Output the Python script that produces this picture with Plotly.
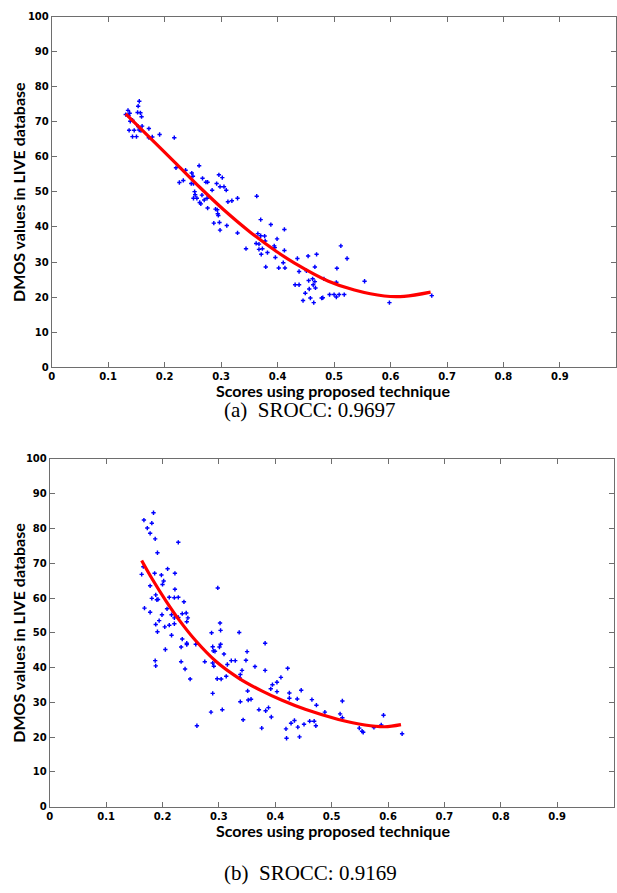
import plotly.graph_objects as go

# ---------------- data: panel (a) ----------------
score_a = [0.131,0.135,0.138,0.136,0.139,0.137,0.143,0.146,0.150,0.143,0.152,0.153,0.155,0.157,0.159,0.153,0.155,0.160,0.158,0.172,0.172,0.178,0.191,0.217,
           0.220,0.226,0.233,0.237,0.248,0.250,0.247,0.251,0.253,0.254,0.251,0.257,0.261,0.262,0.266,0.264,0.267,0.270,0.273,0.276,0.275,0.276,0.284,0.287,0.290,0.293,0.294,0.295,0.296,0.292,0.297,0.298,0.298,0.302,0.305,0.309,0.310,0.312,0.319,0.329,0.329,
           0.344,0.363,0.365,0.370,0.370,0.362,0.367,0.367,0.371,0.377,0.378,0.373,0.379,0.382,0.388,0.394,0.395,0.396,0.399,0.402,0.410,0.412,0.412,0.413,
           0.435,0.431,0.438,0.438,0.445,0.449,0.451,0.454,0.455,0.456,0.458,0.462,0.463,0.464,0.466,0.466,0.467,0.469,0.478,0.480,0.482,0.492,0.500,0.504,0.504,0.505,0.509,0.512,0.518,0.523,0.554,0.598,0.673]
dmos_a = [72.1,73.3,72.5,71.8,70.2,67.6,65.8,67.6,65.8,70.5,72.7,74.5,75.9,72.6,71.5,68.7,67.7,68.8,67.5,68.1,65.5,65.7,66.4,65.5,
          56.9,52.7,53.3,56.2,55.4,54.5,52.4,52.4,50.1,49.2,48.2,48.2,57.5,47.0,49.1,46.6,53.9,47.7,52.8,52.8,48.2,45.4,50.5,41.1,45.1,44.9,43.8,43.3,54.9,52.4,41.3,39.1,51.5,54.1,51.5,50.5,40.4,47.2,47.5,48.2,38.3,
          33.8,48.8,38.1,42.1,37.5,35.3,35.1,33.6,32.2,37.4,36.0,33.8,28.6,32.7,40.7,34.6,34.1,31.3,36.6,28.3,29.8,39.3,33.3,28.3,
          31.0,23.5,23.5,27.3,19.0,21.1,27.5,31.7,24.7,22.3,19.7,25.2,23.5,18.4,28.6,24.4,22.6,32.2,19.7,19.8,25.2,20.7,20.7,20.0,24.2,28.2,20.7,34.6,20.7,31.0,24.5,18.4,20.4]
fit_x_a = [0.131,0.175,0.222,0.263,0.304,0.351,0.398,0.430,0.489,0.536,0.589,0.624,0.671]
fit_y_a = [72.3,65.3,57.8,51.2,45.0,38.6,33.0,29.7,24.6,22.0,20.3,20.2,21.4]

# ---------------- data: panel (b) ----------------
score_b = [0.184,0.167,0.181,0.173,0.178,0.187,0.228,0.191,0.166,0.163,0.186,0.209,0.222,0.198,0.202,0.200,0.178,0.222,0.298,0.188,0.181,0.190,0.192,0.212,0.221,0.228,0.238,
           0.168,0.178,0.199,0.208,0.216,0.221,0.228,0.235,0.242,0.245,0.243,0.194,0.188,0.191,0.204,0.212,0.221,0.216,0.235,0.243,0.243,0.233,0.205,0.259,
           0.287,0.302,0.303,0.336,0.382,0.289,0.303,0.301,0.290,0.293,0.309,0.350,0.275,0.289,0.291,0.322,0.329,0.348,0.315,0.338,0.341,0.337,0.364,0.382,
           0.233,0.187,0.188,0.240,0.249,0.297,0.304,0.313,0.289,0.338,0.351,0.352,0.357,0.371,0.383,0.388,0.286,0.306,0.343,0.376,0.261,0.393,0.403,0.403,0.410,0.395,0.392,
           0.422,0.425,0.425,0.439,0.446,0.465,0.473,0.488,0.519,0.515,0.519,0.419,0.420,0.428,0.434,0.440,0.443,0.451,0.461,0.469,0.472,0.549,0.554,0.556,0.575,0.588,0.592,0.625]
dmos_b = [84.5,82.4,81.5,80.1,78.6,77.0,76.0,73.0,69.0,66.8,67.1,68.4,67.1,66.6,64.9,63.9,63.5,62.5,62.9,60.9,59.9,59.5,59.6,60.2,60.1,60.2,58.9,
          57.1,55.9,55.2,56.9,55.2,54.3,54.4,55.5,55.7,54.3,53.2,53.5,52.4,50.3,51.7,52.2,52.6,49.3,48.2,47.0,46.6,45.9,45.2,46.7,
          50.0,52.8,50.7,50.1,47.0,46.0,46.7,45.9,44.8,44.7,43.9,44.6,41.7,41.3,40.4,42.0,42.0,42.1,40.9,38.0,39.2,37.0,40.3,39.2,
          41.7,42.0,40.5,39.6,36.7,36.8,36.7,37.5,32.6,30.2,33.3,30.7,30.9,27.9,27.6,28.5,27.2,27.9,25.0,22.6,23.3,25.8,33.1,35.8,37.2,35.1,33.9,
          39.8,32.7,31.2,31.0,33.5,30.8,29.2,27.2,30.4,26.7,25.6,22.4,19.7,24.0,24.8,22.9,20.1,23.7,24.6,24.6,23.3,22.6,21.7,21.4,22.8,23.5,26.3,21.0]
fit_x_b = [0.163,0.182,0.206,0.229,0.259,0.294,0.335,0.376,0.412,0.453,0.512,0.559,0.594,0.623]
fit_y_b = [70.8,65.4,59.2,53.8,47.7,41.9,37.0,33.3,30.6,28.0,25.1,23.5,23.0,23.6]

x_ticks = [0, 0.1, 0.2, 0.3, 0.4, 0.5, 0.6, 0.7, 0.8, 0.9, 1]
x_labels = ["0", "0.1", "0.2", "0.3", "0.4", "0.5", "0.6", "0.7", "0.8", "0.9", "1"]
y_ticks = [0, 10, 20, 30, 40, 50, 60, 70, 80, 90, 100]
y_labels = [str(v) for v in y_ticks]

x_title = "Scores using proposed technique"
y_title = "DMOS values in LIVE database"
captions = ["(a)  SROCC: 0.9697", "(b)  SROCC: 0.9169"]

W, H = 617, 893
fig = go.Figure()

marker = dict(symbol="cross", size=3.6, color="#0000ff", line=dict(width=0))
line = dict(color="#ff0000", width=3.2, shape="spline", smoothing=1.0)

fig.add_trace(go.Scatter(x=score_a, y=dmos_a, mode="markers", marker=marker, xaxis="x", yaxis="y", showlegend=False))
fig.add_trace(go.Scatter(x=fit_x_a, y=fit_y_a, mode="lines", line=line, xaxis="x", yaxis="y", showlegend=False))
fig.add_trace(go.Scatter(x=score_b, y=dmos_b, mode="markers", marker=marker, xaxis="x2", yaxis="y2", showlegend=False))
fig.add_trace(go.Scatter(x=fit_x_b, y=fit_y_b, mode="lines", line=line, xaxis="x2", yaxis="y2", showlegend=False))

tickfont = dict(family="DejaVu Sans", size=10, color="black", weight="bold")
axis_common = dict(showline=True, linecolor="#6e6e6e", linewidth=1, mirror="ticks",
                   ticks="inside", ticklen=5, tickcolor="#6e6e6e", showgrid=False, zeroline=False,
                   tickfont=tickfont)

def px_x(p):
    return p / W

def px_y(p):
    return 1 - p / H

# panel geometry (pixels)
a_left, a_right, a_top, a_bottom = 49, 616.4, 11, 366
b_left, b_right, b_top, b_bottom = 47, 613.5, 459, 811.7

fig.update_layout(
    width=W, height=H,
    margin=dict(l=0, r=0, t=0, b=0),
    paper_bgcolor="white", plot_bgcolor="white",
    xaxis=dict(domain=[px_x(a_left), px_x(a_right)], range=[0, 1], tickvals=x_ticks, ticktext=x_labels, anchor="y", **axis_common),
    yaxis=dict(domain=[px_y(a_bottom), px_y(a_top)], range=[0, 100], tickvals=y_ticks, ticktext=y_labels, anchor="x", **axis_common),
    xaxis2=dict(domain=[px_x(b_left), px_x(b_right)], range=[0, 1], tickvals=x_ticks, ticktext=x_labels, anchor="y2", **axis_common),
    yaxis2=dict(domain=[px_y(b_bottom), px_y(b_top)], range=[0, 100], tickvals=y_ticks, ticktext=y_labels, anchor="x2", **axis_common),
)

title_font = dict(family="Lato", size=16, color="black", weight="bold")
cap_font = dict(family="Liberation Serif", size=21, color="black")

annotations = []
for (left, right, top, bottom, cap_y, xt_y, cap) in [
    (a_left, a_right, a_top, a_bottom, 409, 390, captions[0]),
    (b_left, b_right, b_top, b_bottom, 879, 836, captions[1]),
]:
    annotations.append(dict(text=x_title, xref="paper", yref="paper", x=px_x(332), y=px_y(xt_y),
                            xanchor="center", yanchor="middle", showarrow=False, font=title_font))
    annotations.append(dict(text=y_title, xref="paper", yref="paper", x=px_x(16), y=px_y((top + bottom) / 2),
                            xanchor="center", yanchor="middle", textangle=-90, showarrow=False, font=title_font))
    annotations.append(dict(text=cap, xref="paper", yref="paper", x=px_x(309), y=px_y(cap_y),
                            xanchor="center", yanchor="middle", showarrow=False, font=cap_font))
fig.update_layout(annotations=annotations)

fig.write_html("out.html")
